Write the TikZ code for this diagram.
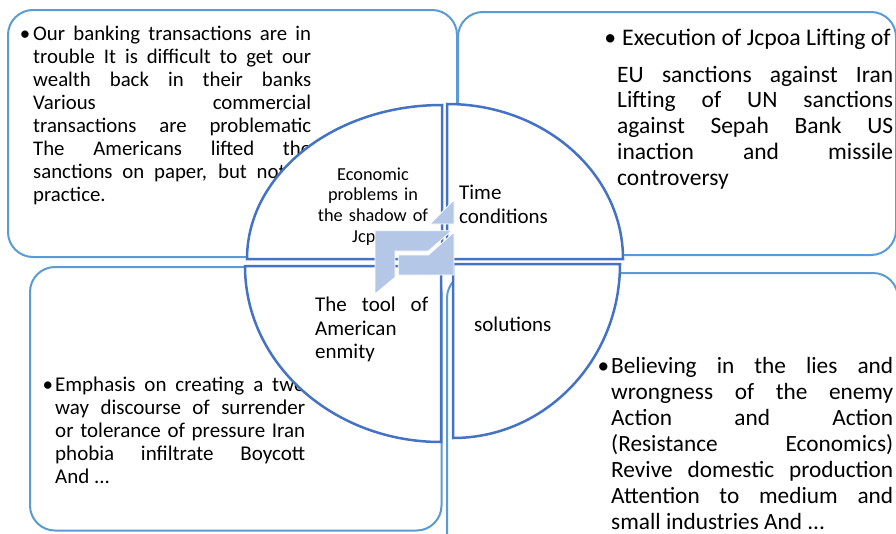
\documentclass[tikz,border=0pt]{standalone}
\usepackage{fontspec}
\setmainfont{Carlito}
\definecolor{boxblue}{RGB}{91,155,213}
\definecolor{ringblue}{RGB}{68,114,196}
\definecolor{arrowblue}{RGB}{180,199,231}
\hyphenpenalty=10000
\exhyphenpenalty=10000
\tolerance=10000
\hbadness=10000

\begin{document}
\begin{tikzpicture}[x=1pt, y=-1pt,
    outerbox/.style={draw=boxblue, line width=2pt, rounded corners=25pt},
    quarter/.style={draw=ringblue, line width=2.5pt, fill=white},
    boxtext/.style={anchor=base west, inner sep=0pt, align=justify},
    ringtext/.style={anchor=base west, inner sep=0pt, font=\fontsize{21}{24}\selectfont}]
    \useasboundingbox (0,0) rectangle (896,533);

    % Rahmen
    \draw[outerbox] (8,10) rectangle (457,257);
    \draw[outerbox] (458,12) rectangle (896,255);
    \draw[outerbox] (30,267) rectangle (441.5,530.5);
    \draw[outerbox] (447,273) rectangle (898,560);

    % Texte der Rahmen
    \node[boxtext, text width=278pt, font=\fontsize{20.8}{23.1}\selectfont] (banking) at (33,40) {%
        \llap{\textbullet\hspace{3pt}}Our banking transactions are in\linebreak
        trouble It is difficult to get our\linebreak
        wealth back in their banks\linebreak
        Various commercial\linebreak
        transactions are problematic\linebreak
        The Americans lifted the\linebreak
        sanctions on paper, but not in\linebreak
        practice.};
    \node[boxtext, font=\fontsize{23.8}{25.9}\selectfont] (jcpoa) at (622,45) {%
        \llap{\textbullet\hspace{6pt}}Execution of Jcpoa Lifting of};
    \node[boxtext, text width=276pt, font=\fontsize{23.5}{25.9}\selectfont] (eusanctions) at (617,82) {%
        EU sanctions against Iran\linebreak
        Lifting of UN sanctions\linebreak
        against Sepah Bank US\linebreak
        inaction and missile\linebreak
        controversy};
    \node[boxtext, text width=250pt, font=\fontsize{21}{22.9}\selectfont] (emphasis) at (55,391.7) {%
        \llap{\textbullet\hspace{2pt}}Emphasis on creating a two\linebreak
        way discourse of surrender\linebreak
        or tolerance of pressure Iran\linebreak
        phobia infiltrate Boycott\linebreak
        And ...};
    \node[boxtext, text width=282pt, font=\fontsize{23.3}{26.1}\selectfont] (believing) at (611,373.3) {%
        \llap{\textbullet\hspace{2pt}}Believing in the lies and\linebreak
        wrongness of the enemy\linebreak
        Action and Action\linebreak
        (Resistance Economics)\linebreak
        Revive domestic production\linebreak
        Attention to medium and\linebreak
        small industries And ...};

    % Viertel des Kreises
    \draw[quarter] (442,259) -- ++(-195,0) arc[start angle=180, end angle=270, x radius=195, y radius=154] -- cycle;
    \draw[quarter] (447,259) -- ++(0,-155) arc[start angle=270, end angle=360, x radius=176, y radius=155] -- cycle;
    \draw[quarter] (453,264) -- ++(167,0) arc[start angle=0, end angle=90, x radius=167, y radius=174] -- cycle;
    \draw[quarter] (441,266) -- ++(0,176) arc[start angle=90, end angle=180, x radius=196, y radius=176] -- cycle;

    % Texte im Kreis
    \node[anchor=base, inner sep=0pt, text width=120pt, align=center, font=\fontsize{18.3}{20.8}\selectfont] (economic) at (373,180) {%
        Economic\\problems in\\the shadow of\\Jcpoa};
    \node[ringtext, text width=100pt, align=left] (time) at (459,199.3) {Time\\conditions};
    \node[ringtext, text width=113pt, align=justify, font=\fontsize{21}{23.3}\selectfont] (tool) at (315,311.7) {%
        The tool of\linebreak American enmity};
    \node[ringtext] (solutions) at (474,331.7) {solutions};

    % Pfeile in der Mitte
    \fill[arrowblue, draw=white, line width=0.8pt] (430,224) -- (454,200) -- (454,224) -- cycle;
    \fill[arrowblue, draw=white, line width=0.8pt] (375,230.7) -- (451.7,230.7) -- (428.3,251) -- (395,251) -- (395,277.3) -- (375,294) -- cycle;
    \fill[arrowblue, draw=white, line width=0.8pt] (398.3,255) -- (428.3,255) -- (454,232.3) -- (454,275) -- (398.3,275) -- cycle;

\end{tikzpicture}
\end{document}
